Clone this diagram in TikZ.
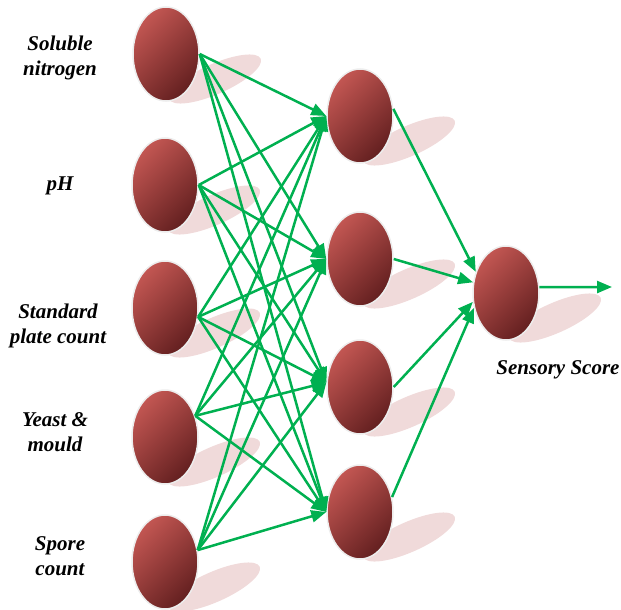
\documentclass[tikz,border=0pt]{standalone}
\usepackage{fontspec}
\setmainfont{Liberation Serif}
\usetikzlibrary{arrows.meta,shapes.geometric}

\definecolor{nlight}{RGB}{194,86,82}
\definecolor{ndark}{RGB}{100,32,32}
\definecolor{blobpink}{RGB}{240,218,218}
\definecolor{linkgreen}{RGB}{0,176,80}

\begin{document}
\begin{tikzpicture}
[x=1pt,y=-1pt,
neuron/.style={ellipse,minimum width=66pt,minimum height=94pt,inner sep=0pt,draw=black!7,line width=1.5pt,top color=nlight,bottom color=ndark,shading angle=45},
blob/.style={ellipse,minimum width=100pt,minimum height=30pt,inner sep=0pt,fill=blobpink,rotate=24},
link/.style={draw=linkgreen,line width=2.5pt,-{Triangle[length=15pt,width=12pt]}},
varname/.style={align=center,inner sep=0pt,font=\fontsize{21}{25}\selectfont\bfseries\itshape}]
\useasboundingbox (0,0) rectangle (621,610);

% shadows under the units
\foreach \n/\x/\y in {in1/166/54,in2/165/185,in3/165/308,in4/165/437,in5/165/562,
  hid1/360/116,hid2/360/259,hid3/360/387,hid4/360/512,out/506/293}
  \node[blob] (\n-sh) at (\x+49,\y+25) {};

% input layer
\node[neuron] (in1) at (166,54) {};
\node[neuron] (in2) at (165,185) {};
\node[neuron] (in3) at (165,308) {};
\node[neuron] (in4) at (165,437) {};
\node[neuron] (in5) at (165,562) {};
% hidden layer
\node[neuron] (hid1) at (360,116) {};
\node[neuron] (hid2) at (360,259) {};
\node[neuron] (hid3) at (360,387) {};
\node[neuron] (hid4) at (360,512) {};
% output
\node[neuron] (out) at (506,293) {};
\coordinate (score) at (612,287);

\foreach \i/\a in {1/east,2/east,3/-15,4/35,5/20}
  \foreach \h/\b in {1/west,2/west,3/172,4/west}
    \draw[link] (in\i.\a) -- (hid\h.\b);
\foreach \h/\a/\b in {1/12/145,2/east/162,3/east/195,4/25/205}
  \draw[link] (hid\h.\a) -- (out.\b);
\draw[link] (out.10) -- (score);

\node[varname] (lsol) at (60,58) {Soluble\\nitrogen};
\node[varname] (lph) at (60,186) {pH};
\node[varname] (lspc) at (58,326) {Standard\\plate count};
\node[varname] (lyeast) at (55,432) {Yeast \&\\mould};
\node[varname] (lspore) at (60,556) {Spore\\count};
\node[varname] (lscore) at (558,370) {Sensory Score};
\end{tikzpicture}
\end{document}
